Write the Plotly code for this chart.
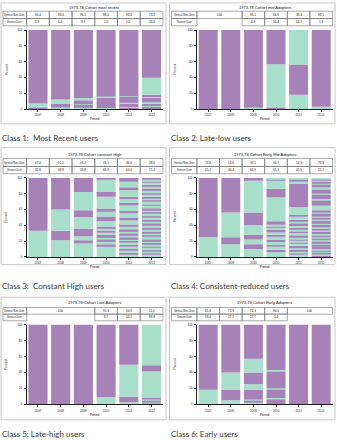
import plotly.graph_objects as go

W, H = 337, 440

YEARS = ["2007", "2008", "2009", "2010", "2011", "2012"]
ROW_LABELS = ["Service Non-User", "Service User"]
NONUSER_COLOR = "#a682b8"
USER_COLOR = "#a8dfca"
COLORS = {"N": NONUSER_COLOR, "U": USER_COLOR}

TITLES = [
    "1973-78 Cohort most recent",
    "1973-78 Cohort mid Adopters",
    "1973-78 Cohort constant High",
    "1973-78 Cohort Early Mid Adopters",
    "1973-78 Cohort Late Adopters",
    "1973-78 Cohort Early Adopters",
]
CAPTIONS = [
    "Class 1:  Most Recent users",
    "Class 2: Late-low users",
    "Class 3:  Constant High users",
    "Class 4: Consistent-reduced users",
    "Class 5: Late-high users",
    "Class 6: Early users",
]

# ---- table values (Service Non-User / Service User, % per period) ----
P1_NONUSER = ["94.4", "93.6", "96.1", "98.0", "98.8", "73.2"]
P1_USER = ["5.6", "6.4", "3.9", "2.0", "1.2", "26.8"]
P1_SPANS = [1, 1, 1, 1, 1, 1]

P2_NONUSER = ["100", "95.1", "44.6", "38.3", "98.1"]
P2_USER = ["", "4.9", "55.4", "61.7", "1.9"]
P2_SPANS = [2, 1, 1, 1, 1]

P3_NONUSER = ["67.4", "51.2", "41.2", "31.1", "36.0", "28.6"]
P3_USER = ["32.6", "48.8", "58.8", "68.9", "64.0", "71.4"]
P3_SPANS = [1, 1, 1, 1, 1, 1]

P4_NONUSER = ["74.8", "53.6", "33.1", "34.7", "54.5", "78.9"]
P4_USER = ["25.2", "46.4", "66.9", "65.3", "45.5", "21.1"]
P4_SPANS = [1, 1, 1, 1, 1, 1]

P5_NONUSER = ["100", "91.3", "56.9", "11.2"]
P5_USER = ["", "8.7", "43.1", "88.8"]
P5_SPANS = [3, 1, 1, 1]

P6_NONUSER = ["81.6", "72.9", "72.3", "94.6", "100"]
P6_USER = ["18.4", "27.1", "27.7", "5.4", ""]
P6_SPANS = [1, 1, 1, 1, 2]

# ---- stacked sequence segments per period, bottom -> top: (state, percent) ----
P1_SEGS = [
    [("N", 1.5), ("U", 5.4), ("N", 93.1)],
    [("N", 1.2), ("U", 0.8), ("N", 4.4), ("U", 5.6), ("N", 88.0)],
    [("N", 1.0), ("U", 0.5), ("N", 4.0), ("U", 0.6), ("N", 5.0), ("U", 2.8), ("N", 86.1)],
    [("N", 1.0), ("U", 0.3), ("N", 12.9), ("U", 1.7), ("N", 84.1)],
    [("N", 2.0), ("U", 0.4), ("N", 5.0), ("U", 0.4), ("N", 8.0), ("U", 0.4), ("N", 83.8)],
    [("N", 3.0), ("U", 0.8), ("N", 3.0), ("U", 1.8), ("N", 5.4), ("U", 1.5), ("N", 2.5),
     ("U", 21.5), ("N", 60.5)],
]
P2_SEGS = [
    [("N", 100)],
    [("N", 100)],
    [("N", 1.0), ("U", 1.0), ("N", 98.0)],
    [("N", 1.5), ("U", 55.2), ("N", 43.3)],
    [("U", 18.0), ("N", 38.5), ("U", 43.5)],
    [("N", 1.0), ("U", 2.0), ("N", 97.0)],
]
P3_SEGS = [
    [("U", 33), ("N", 67)],
    [("U", 21), ("N", 12), ("U", 27), ("N", 40)],
    [("U", 17), ("N", 4), ("U", 5), ("N", 10), ("U", 14), ("N", 9), ("U", 23), ("N", 18)],
    [("U", 14), ("N", 2), ("U", 4), ("N", 2.5), ("U", 3), ("N", 2.5), ("U", 3), ("N", 2.5),
     ("U", 3), ("N", 2), ("U", 6.5), ("N", 6), ("U", 6), ("N", 4), ("U", 15), ("N", 6),
     ("U", 16), ("N", 2)],
    [("U", 3), ("N", 2), ("U", 3), ("N", 2), ("U", 3), ("N", 2), ("U", 3), ("N", 2),
     ("U", 3), ("N", 2), ("U", 3), ("N", 2), ("U", 3), ("N", 2), ("U", 4), ("N", 2),
     ("U", 5), ("N", 3), ("U", 6), ("N", 3), ("U", 7), ("N", 3), ("U", 5), ("N", 3),
     ("U", 8), ("N", 4), ("U", 7), ("N", 5)],
    [("U", 3), ("N", 1.5), ("U", 3), ("N", 1), ("U", 4), ("N", 1.5), ("U", 2.5), ("N", 1),
     ("U", 3), ("N", 2), ("U", 4), ("N", 1), ("U", 3), ("N", 1.5), ("U", 3.5), ("N", 1),
     ("U", 4), ("N", 2), ("U", 3), ("N", 1), ("U", 3.5), ("N", 1.5), ("U", 4), ("N", 1),
     ("U", 3), ("N", 2), ("U", 3.5), ("N", 1), ("U", 4), ("N", 1.5), ("U", 3), ("N", 1),
     ("U", 3.5), ("N", 1.5), ("U", 4), ("N", 2), ("U", 3), ("N", 1.5), ("U", 3), ("N", 1.5),
     ("U", 2.5), ("N", 2)],
]
P4_SEGS = [
    [("U", 25), ("N", 75)],
    [("U", 16), ("N", 9), ("U", 31), ("N", 44)],
    [("U", 10), ("N", 6), ("U", 6), ("N", 6), ("U", 12), ("N", 16), ("U", 40), ("N", 4)],
    [("U", 6), ("N", 3), ("U", 4), ("N", 2), ("U", 4), ("N", 3), ("U", 4), ("N", 2),
     ("U", 3), ("N", 3), ("U", 3.5), ("N", 1.5), ("U", 1.5), ("N", 4.5), ("U", 30),
     ("N", 11), ("U", 11), ("N", 1), ("U", 2)],
    [("U", 3), ("N", 1.5), ("U", 3), ("N", 2), ("U", 1.5), ("N", 3), ("U", 3), ("N", 2),
     ("U", 2), ("N", 2), ("U", 2.5), ("N", 2.5), ("U", 2), ("N", 3), ("U", 2), ("N", 2),
     ("U", 2), ("N", 3.5), ("U", 3), ("N", 1.5), ("U", 4), ("N", 2), ("U", 10), ("N", 29),
     ("U", 3), ("N", 3), ("U", 2)],
    [("N", 2), ("U", 1), ("N", 3), ("U", 1), ("N", 2), ("U", 1), ("N", 3), ("U", 1),
     ("N", 2.5), ("U", 1), ("N", 2.5), ("U", 1), ("N", 3), ("U", 1), ("N", 3), ("U", 1),
     ("N", 3), ("U", 1), ("N", 3), ("U", 1.5), ("N", 3.5), ("U", 1), ("N", 4), ("U", 1),
     ("N", 3), ("U", 1), ("N", 4), ("U", 1), ("N", 3), ("U", 5.5), ("N", 7.5), ("U", 1),
     ("N", 6), ("U", 1), ("N", 6), ("U", 1.5), ("N", 4.5), ("U", 1), ("N", 2.5), ("U", 1.5),
     ("N", 1.5), ("U", 1.5)],
]
P5_SEGS = [
    [("N", 100)],
    [("N", 100)],
    [("N", 100)],
    [("U", 8.7), ("N", 91.3)],
    [("U", 2.5), ("N", 7), ("U", 40), ("N", 50.5)],
    [("N", 1.5), ("U", 1.5), ("N", 2), ("U", 1.5), ("N", 1.5), ("U", 33), ("N", 8), ("U", 51)],
]
P6_SEGS = [
    [("U", 18.4), ("N", 81.6)],
    [("U", 5), ("N", 13), ("U", 22), ("N", 60)],
    [("U", 2), ("N", 3), ("U", 1), ("N", 12), ("U", 7), ("N", 15), ("U", 17), ("N", 43)],
    [("N", 7), ("U", 1), ("N", 11), ("U", 1), ("N", 21.5), ("U", 1.5), ("N", 57)],
    [("N", 100)],
    [("N", 100)],
]

PANELS = [
    (P1_SEGS, P1_NONUSER, P1_USER, P1_SPANS),
    (P2_SEGS, P2_NONUSER, P2_USER, P2_SPANS),
    (P3_SEGS, P3_NONUSER, P3_USER, P3_SPANS),
    (P4_SEGS, P4_NONUSER, P4_USER, P4_SPANS),
    (P5_SEGS, P5_NONUSER, P5_USER, P5_SPANS),
    (P6_SEGS, P6_NONUSER, P6_USER, P6_SPANS),
]

# ---- layout geometry in pixels ----
COL_BOX = [(1.0, 166.0), (169.5, 335.0)]
COL_PLOT = [(26.6, 162.9), (196.9, 332.5)]
# box top, box bottom, title y, table top, table mid, table bottom, plot top, plot bottom, caption y
ROW_GEOM = [
    (1.0, 123.0, 5.2, 9.3, 16.7, 24.0, 28.3, 108.0, 137.5),
    (147.0, 265.0, 154.0, 158.0, 166.0, 173.3, 177.3, 257.3, 286.5),
    (298.0, 421.7, 303.5, 308.3, 315.0, 321.7, 325.5, 406.0, 436.0),
]


def fx(px):
    return px / W


def fy(py):
    return 1 - py / H


fig = go.Figure()
shapes = []
annotations = []
layout_axes = {}
LINE_GRAY = "#6f6f6f"
FONT = "Liberation Sans"

for i, (segs, nonuser, user, spans) in enumerate(PANELS):
    col, row = i % 2, i // 2
    bl, br = COL_BOX[col]
    pl, pr = COL_PLOT[col]
    bt, bb, ty, t0, t1, t2, pt, pb, cy = ROW_GEOM[row]
    n = i + 1
    xname = "x" if n == 1 else f"x{n}"
    yname = "y" if n == 1 else f"y{n}"

    xs, hs, bases, cols = [], [], [], []
    for yr, bar in zip(YEARS, segs):
        b = 0.0
        for state, h in bar:
            xs.append(yr)
            hs.append(h)
            bases.append(b)
            cols.append(COLORS[state])
            b += h
    fig.add_trace(go.Bar(
        x=xs, y=hs, base=bases, width=0.84,
        marker=dict(color=cols, line=dict(width=0)),
        xaxis=xname, yaxis=yname, showlegend=False, hoverinfo="skip",
    ))

    axis_common = dict(
        showline=True, linecolor="#222", linewidth=0.6, ticks="outside",
        ticklen=2, tickwidth=0.5, tickcolor="#222", showgrid=False, zeroline=False,
        tickfont=dict(size=3, color="#222", family=FONT), fixedrange=True,
    )
    layout_axes["xaxis" if n == 1 else f"xaxis{n}"] = dict(
        domain=[fx(pl), fx(pr)], anchor=yname, type="category",
        categoryorder="array", categoryarray=YEARS, range=[-0.5, 5.5],
        ticklabelstandoff=1, **axis_common,
    )
    layout_axes["yaxis" if n == 1 else f"yaxis{n}"] = dict(
        domain=[fy(pb), fy(pt)], anchor=xname, range=[0, 100],
        tickvals=[0, 20, 40, 60, 80, 100], ticklabelstandoff=1, **axis_common,
    )

    # panel frame
    shapes.append(dict(type="rect", xref="paper", yref="paper",
                       x0=fx(bl), x1=fx(br), y0=fy(bb), y1=fy(bt),
                       line=dict(color="#c8c8c8", width=1), layer="below"))

    # title
    annotations.append(dict(text=TITLES[i], x=fx((pl + pr) / 2), y=fy(ty),
                            xref="paper", yref="paper", showarrow=False,
                            xanchor="center", yanchor="middle",
                            font=dict(size=4, color="#111", family=FONT)))

    # table
    u = (pr - pl) / 6
    lab_l = bl + 2
    for r, (vals, ya, yb) in enumerate([(nonuser, t0, t1), (user, t1, t2)]):
        shapes.append(dict(type="rect", xref="paper", yref="paper",
                           x0=fx(lab_l), x1=fx(pl), y0=fy(yb), y1=fy(ya),
                           line=dict(color=LINE_GRAY, width=0.6)))
        annotations.append(dict(text=ROW_LABELS[r], x=fx((lab_l + pl) / 2),
                                y=fy((ya + yb) / 2), xref="paper", yref="paper",
                                showarrow=False, xanchor="center", yanchor="middle",
                                font=dict(size=2.6, color="#111", family=FONT)))
        c = 0
        for v, s in zip(vals, spans):
            x0 = pl + c * u
            x1 = pl + (c + s) * u
            c += s
            if v == "":
                continue
            shapes.append(dict(type="rect", xref="paper", yref="paper",
                               x0=fx(x0), x1=fx(x1), y0=fy(yb), y1=fy(ya),
                               line=dict(color=LINE_GRAY, width=0.6)))
            annotations.append(dict(text=v, x=fx((x0 + x1) / 2), y=fy((ya + yb) / 2),
                                    xref="paper", yref="paper", showarrow=False,
                                    xanchor="center", yanchor="middle",
                                    font=dict(size=3, color="#111", family=FONT)))

    # axis titles
    annotations.append(dict(text="Percent", x=fx(bl + 5.5), y=fy((pt + pb) / 2),
                            xref="paper", yref="paper", showarrow=False, textangle=-90,
                            xanchor="center", yanchor="middle",
                            font=dict(size=3.2, color="#111", family=FONT)))
    annotations.append(dict(text="Period", x=fx((pl + pr) / 2), y=fy(pb + 10.5),
                            xref="paper", yref="paper", showarrow=False,
                            xanchor="center", yanchor="middle",
                            font=dict(size=3.2, color="#111", family=FONT)))

    # caption
    annotations.append(dict(text=CAPTIONS[i], x=fx(bl - 1), y=fy(cy),
                            xref="paper", yref="paper", showarrow=False,
                            xanchor="left", yanchor="middle",
                            font=dict(size=8, color="#3a3a3a", family="Lato")))

fig.update_layout(
    width=W, height=H, autosize=False,
    margin=dict(l=0, r=0, t=0, b=0),
    paper_bgcolor="white", plot_bgcolor="white",
    barmode="overlay", bargap=0.16,
    shapes=shapes, annotations=annotations,
    font=dict(family=FONT),
    **layout_axes,
)

fig.write_html("out.html")
